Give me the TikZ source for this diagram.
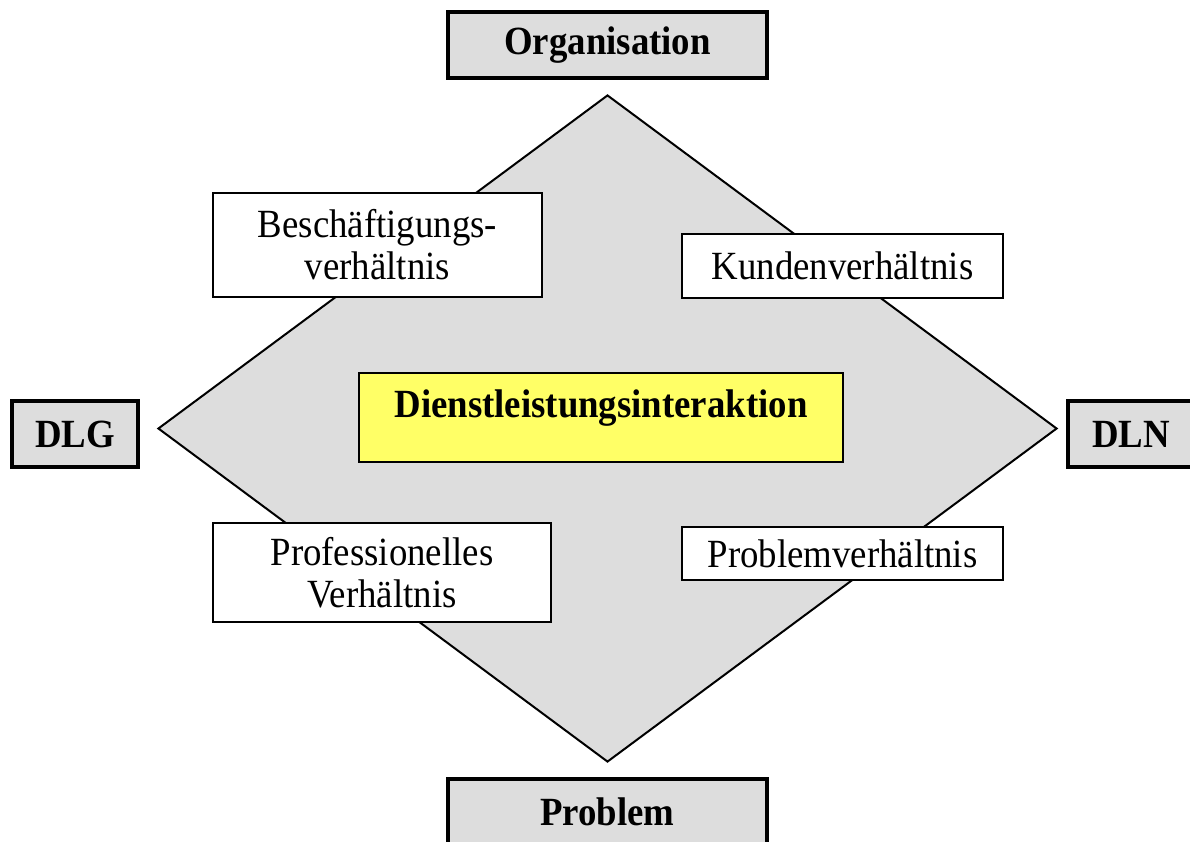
\documentclass[tikz,border=0pt]{standalone}
\usepackage{fontspec}
\setmainfont{Liberation Serif}[FakeStretch=0.92]
\usetikzlibrary{shapes.geometric}

\definecolor{feldgrau}{HTML}{DDDDDD}
\definecolor{kerngelb}{HTML}{FFFF66}

\tikzset{
  pol/.style={draw=black, line width=3.5pt, fill=feldgrau, inner sep=0pt,
    font=\bfseries\fontsize{40}{42}\selectfont},
  bez/.style={draw=black, line width=1.5pt, fill=white, inner sep=0pt, align=center,
    font=\fontsize{40}{42}\selectfont},
}

\begin{document}
\begin{tikzpicture}[x=1pt, y=-1pt]
\useasboundingbox (0,0) rectangle (1190,841);
\node[diamond, draw=black, line width=2pt, fill=feldgrau, inner sep=0pt,
  minimum width=899pt, minimum height=667pt] (raute) at (607.5,428.5) {};

\node[pol, minimum width=319pt, minimum height=66pt] (org) at (607.5,45) {Organisation};
\node[pol, minimum width=126pt, minimum height=66pt] (dlg) at (75,434) {DLG};
\node[pol, minimum width=126pt, minimum height=66pt] (dln) at (1131,434) {DLN};
\node[pol, minimum width=319pt, minimum height=66pt] (problem) at (607.5,812) {Problem};

\node[draw=black, line width=1.5pt, fill=kerngelb, inner sep=0pt,
  font=\bfseries\fontsize{40}{42}\selectfont, text height=27pt, text depth=27pt,
  minimum width=484pt, minimum height=89pt] (dli) at (601,417.5) {Dienstleistungsinteraktion};

\node[bez, minimum width=329pt, minimum height=104pt] (besch) at (377.5,245) {Beschäftigungs-\\verhältnis};
\node[bez, minimum width=321pt, minimum height=64pt] (kunden) at (842.5,266) {Kundenverhältnis};
\node[bez, minimum width=338pt, minimum height=99pt] (prof) at (382,572.5) {Professionelles\\Verhältnis};
\node[bez, minimum width=321pt, minimum height=53pt] (probv) at (842.5,553.5) {Problemverhältnis};
\end{tikzpicture}
\end{document}
